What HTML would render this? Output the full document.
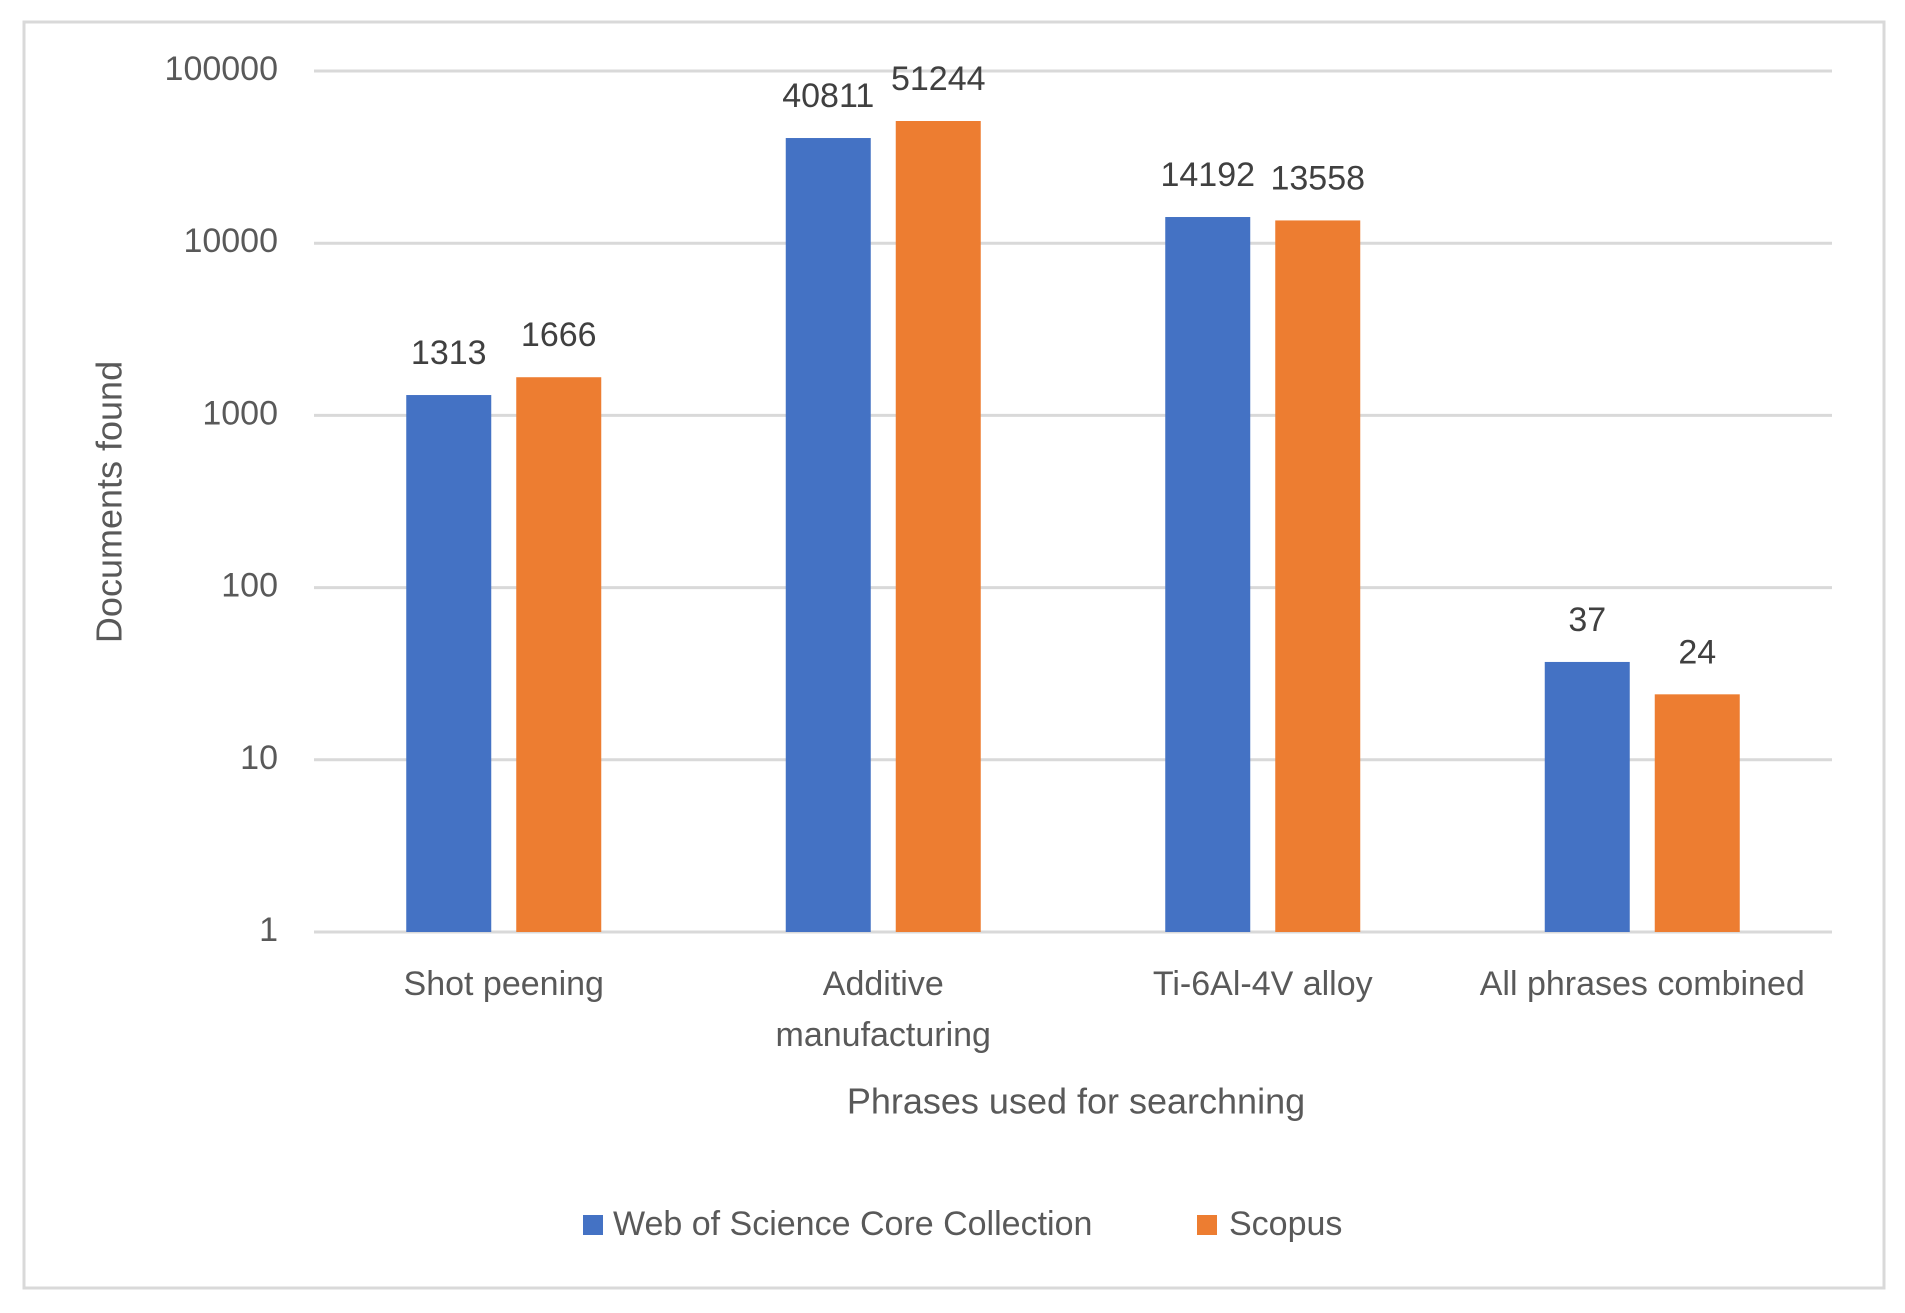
<!DOCTYPE html>
<html><head><meta charset="utf-8"><style>
html,body{margin:0;padding:0;background:#fff;}
svg{display:block;font-family:"Liberation Sans",sans-serif;}
</style></head><body>
<svg id="chart" width="1905" height="1313" viewBox="0 0 1905 1313">
<rect x="24" y="22" width="1860" height="1266" fill="#fff" stroke="#d9d9d9" stroke-width="3"/>
<g id="grid"></g>
<g id="bars"></g>
<g id="labels"></g>
<text x="112" y="502" transform="rotate(-90 112 502)" text-anchor="middle" dominant-baseline="middle" font-size="36" fill="#595959">Documents found</text>
<text x="1076" y="1104" text-anchor="middle" dominant-baseline="middle" font-size="36" fill="#595959">Phrases used for searchning</text>
<g>
<rect x="583" y="1215" width="20" height="20" fill="#4472C4"/>
<text x="613" y="1226" dominant-baseline="middle" font-size="34" fill="#595959">Web of Science Core Collection</text>
<rect x="1197" y="1215" width="20" height="20" fill="#ED7D31"/>
<text x="1229" y="1226" dominant-baseline="middle" font-size="34" fill="#595959">Scopus</text>
</g>
</svg>
<script>
const categories = [["Shot peening"], ["Additive", "manufacturing"], ["Ti-6Al-4V alloy"], ["All phrases combined"]];
const wosValues = [1313, 40811, 14192, 37];
const scopusValues = [1666, 51244, 13558, 24];
const tickValues = [1, 10, 100, 1000, 10000, 100000];
const tickLabels = ["1", "10", "100", "1000", "10000", "100000"];

const NS = "http://www.w3.org/2000/svg";
const plotL = 314, plotR = 1832, yBase = 932, decade = 172.2;
const catW = (plotR - plotL) / categories.length;
const barW = 85, off = 55;
function yScale(v){ return yBase - Math.log10(v) * decade; }
function xCenter(i){ return plotL + catW * (i + 0.5); }
function mk(tag, attrs, parent){
  const e = document.createElementNS(NS, tag);
  for (const k in attrs) e.setAttribute(k, attrs[k]);
  parent.appendChild(e); return e;
}
const grid = document.getElementById('grid');
const bars = document.getElementById('bars');
const labels = document.getElementById('labels');
tickValues.forEach((t, i) => {
  const y = yScale(t);
  const ln = mk('line', {x1: plotL, x2: plotR, y1: y, y2: y, stroke: '#d9d9d9', 'stroke-width': 3}, grid);
  
  
  const tx = mk('text', {x: 278, y: y, 'text-anchor': 'end', 'dominant-baseline': 'middle', 'font-size': 34, fill: '#595959'}, labels);
  tx.textContent = tickLabels[i];
  
  
});
const series = [{vals: wosValues, color: '#4472C4', dx: -off, name: 'wos'}, {vals: scopusValues, color: '#ED7D31', dx: off, name: 'scopus'}];
categories.forEach((cat, i) => {
  const cx = xCenter(i);
  series.forEach(s => {
    const v = s.vals[i];
    const y = yScale(v);
    const r = mk('rect', {x: cx + s.dx - barW / 2, y: y, width: barW, height: yBase - y, fill: s.color}, bars);
    
    
    const t = mk('text', {x: cx + s.dx, y: y - 40, 'text-anchor': 'middle', 'dominant-baseline': 'middle', 'font-size': 34, fill: '#404040'}, labels);
    t.textContent = String(v);
    
    
  });
  cat.forEach((line, j) => {
    const t = mk('text', {x: cx, y: 986 + j * 51, 'text-anchor': 'middle', 'dominant-baseline': 'middle', 'font-size': 34, fill: '#595959'}, labels);
    t.textContent = line;
    
    
  });
});
</script>
</body></html>
